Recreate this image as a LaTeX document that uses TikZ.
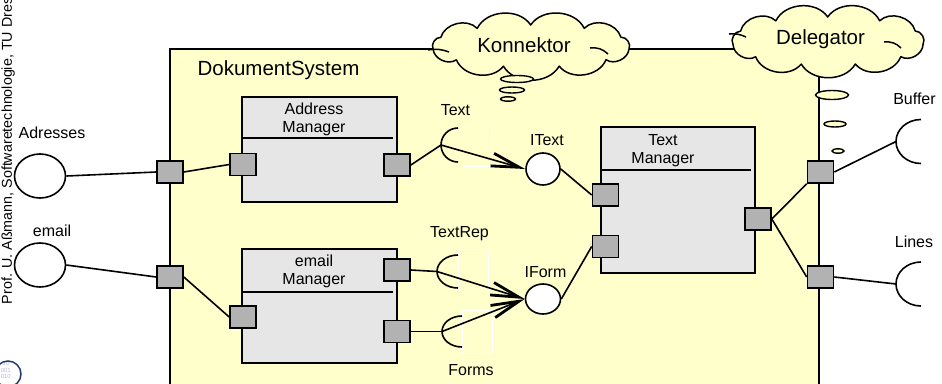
\documentclass[tikz,border=0pt]{standalone}
\usepackage{fontspec}
\setmainfont{Liberation Sans}
\usetikzlibrary{shapes.geometric,arrows.meta}
\definecolor{sysyellow}{HTML}{FFFFCC}
\definecolor{compgray}{HTML}{E6E6E6}
\definecolor{portgray}{HTML}{B2B2B2}
\definecolor{logoblue}{HTML}{23386B}
\definecolor{logodig}{HTML}{B9B9E6}
\begin{document}
\begin{tikzpicture}[x=1pt,y=-1pt, line width=1.6pt,
  lbl/.style={font=\fontsize{16}{18}\selectfont, inner sep=0pt},
  biglbl/.style={font=\fontsize{20.5}{24}\selectfont, inner sep=0pt},
  port/.style={draw, fill=portgray, minimum width=26pt, minimum height=22pt, inner sep=0pt},
  comp/.style={draw, fill=compgray, inner sep=0pt},
  ball/.style={draw, fill=white, ellipse, inner sep=0pt},
  cloudline/.style={draw, fill=sysyellow, line width=1.5pt, line join=round},
  bubble/.style={draw, fill=sysyellow, line width=1.4pt},
  conn/.style={line width=1.6pt},
  ghost/.style={draw=white, line width=1pt},
  req/.style={conn, -{Straight Barb[length=28pt,width=13pt,line width=2.8pt]}}
]
\clip (0,0) rectangle (942,383);
\fill[white] (0,0) rectangle (942,383);

% vertical credit text
\node[rotate=90, anchor=base west, inner sep=0pt, font=\fontsize{14.3}{16}\selectfont] (credit) at (12,305) {Prof. U. Aßmann, Softwaretechnologie, TU Dresden};

% logo
\begin{scope}
  \clip (8,374) circle[radius=13];
  \node[align=left, inner sep=0pt, text=logodig, font=\fontsize{6}{6.5}\selectfont, anchor=north west] (logodigits) at (0,361) {\,\,10\\001\\010};
\end{scope}
\draw[logoblue, line width=1.5pt] (8,374) circle[radius=13];

% system box
\draw[fill=sysyellow] (170,49) rectangle (819,400);
\node[biglbl] (sysname) at (278.5,70) {DokumentSystem};

% Konnektor cloud
\path[cloudline] ({531+99*cos(8)},{46+21*sin(8)})
  \foreach \i in {1,...,11}{ to[bend left=60] ({531+99*cos(8+\i*360/11)},{46+21*sin(8+\i*360/11)}) } -- cycle;
\draw[line width=1.5pt] (428,50) to[bend left=15] (449,52);
\draw[line width=1.5pt] (590,48) to[bend left=25] (608,54);
\node[biglbl] (ktext) at (524,45) {Konnektor};
\draw[bubble] (517,79) ellipse[x radius=16.5, y radius=3.5];
\draw[bubble] (512,90) ellipse[x radius=12.5, y radius=3];
\draw[bubble] (508,99) ellipse[x radius=7.5, y radius=2.2];

% Delegator cloud
\path[cloudline] ({828+96*cos(8)},{41+24*sin(8)})
  \foreach \i in {1,...,11}{ to[bend left=60] ({828+96*cos(8+\i*360/11)},{41+24*sin(8+\i*360/11)}) } -- cycle;
\draw[line width=1.5pt] (729,34) to[bend left=15] (746,37);
\draw[line width=1.5pt] (884,42) to[bend left=25] (901,48);
\node[biglbl] (dtext) at (820.5,39) {Delegator};
\draw[bubble] (832,95) ellipse[x radius=16.5, y radius=4.5];
\draw[bubble] (835,124) ellipse[x radius=11, y radius=3];
\draw[bubble] (838,151) ellipse[x radius=6, y radius=2.2];

% external interfaces left
\node[ball, minimum width=51pt, minimum height=44pt] (adr) at (40,176) {};
\node[lbl] (adrl) at (52,133) {Adresses};
\node[ball, minimum width=51pt, minimum height=44pt] (eml) at (40,265) {};
\node[lbl] (emll) at (52,231) {email};

% outer ports
\node[port] (p1) at (170,172) {};
\node[port] (p2) at (170,277) {};
\node[port] (pr1) at (820.5,172) {};
\node[port] (pr2) at (820.5,277) {};

% Address Manager
\node[comp, minimum width=155pt, minimum height=105pt] (am) at (319.5,149.5) {};
\draw (242,138) -- (393,138);
\node[lbl, align=center] (amt) at (314,119) {Address\\Manager};
\node[port] (amL) at (243,164.5) {};
\node[port] (amR) at (397,165) {};

% email Manager
\node[comp, minimum width=155pt, minimum height=114pt] (em) at (319.5,306) {};
\draw (242,292) -- (393,292);
\node[lbl, align=center] (emt) at (314,271.5) {email\\Manager};
\node[port] (emL) at (243,317) {};
\node[port] (emR1) at (397,270) {};
\node[port] (emR2) at (397,331.5) {};

% Text Manager
\node[comp, minimum width=154pt, minimum height=146pt] (tm) at (678,200) {};
\draw (601,170) -- (751,170);
\node[lbl, align=center] (tmt) at (663,150.5) {Text\\Manager};
\node[port] (tmL1) at (605.5,195) {};
\node[port] (tmL2) at (605.5,246.5) {};
\node[port] (tmR) at (758,219) {};

% ghost rectangles
\draw[ghost] (463,123) rectangle (491,166);
\draw[ghost] (458,249) rectangle (488,291);
\draw[ghost] (462,310) rectangle (492,353);

% provided interfaces (balls)
\node[ball, minimum width=34pt, minimum height=32pt] (itext) at (543,169) {};
\node[lbl] (itextl) at (547,140) {IText};
\node[ball, minimum width=35pt, minimum height=30pt] (iform) at (543,299) {};
\node[lbl] (iforml) at (545.5,272) {IForm};

% sockets
\coordinate (tsL) at (441,145);
\draw (458,162) arc[start angle=90, end angle=270, radius=17];
\node[lbl] (tsl) at (455.5,110) {Text};

\coordinate (trL) at (437,271.5);
\draw (458,288) arc[start angle=90, end angle=270, x radius=21, y radius=16.5];
\node[lbl] (trl) at (459.5,234) {TextRep};

\coordinate (fsL) at (442,331.5);
\draw (462,347) arc[start angle=90, end angle=270, x radius=20, y radius=15.5];
\node[lbl] (fsl) at (471,370) {Forms};

\coordinate (bufL) at (896,141.5);
\draw (921,163.5) arc[start angle=90, end angle=270, x radius=25, y radius=22];
\node[lbl] (bufl) at (914.5,99) {Buffer};

\coordinate (linL) at (896,284);
\draw (921,306) arc[start angle=90, end angle=270, x radius=25, y radius=22];
\node[lbl] (linl) at (914,242) {Lines};

% connectors
\draw[conn] (adr.east) -- (p1.west);
\draw[conn] (p1.east) -- (amL.west);
\draw[conn] (eml.east) -- (p2.west);
\draw[conn] (p2.east) -- (emL.west);
\draw[conn] (amR.east) -- (tsL);
\draw[req] (tsL) -- (itext.west);
\draw[conn] (emR1.east) -- (trL);
\draw[req] (trL) -- (iform.west);
\draw[conn] (emR2.east) -- (fsL);
\draw[req] (fsL) -- (iform.west);
\draw[conn] (itext.east) -- (tmL1.west);
\draw[conn] (iform.east) -- (tmL2.west);
\draw[conn] (tmR.east) -- (pr1.south west);
\draw[conn] (tmR.east) -- (pr2.west);
\draw[conn] (pr1.east) -- (bufL);
\draw[conn] (pr2.east) -- (linL);
\end{tikzpicture}
\end{document}
